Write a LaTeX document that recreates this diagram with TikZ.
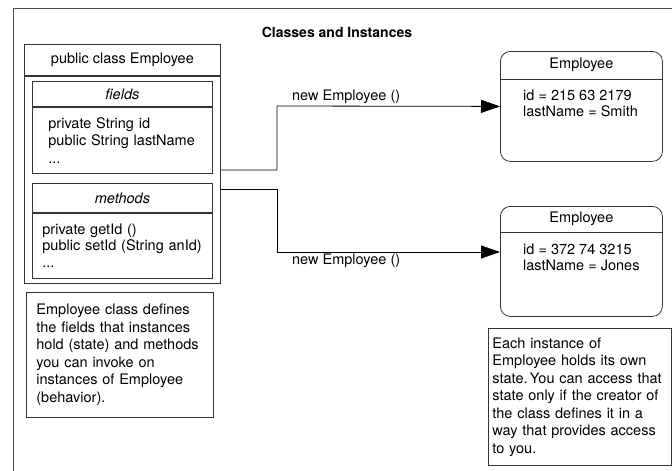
\documentclass[tikz,border=0pt]{standalone}
\usepackage{fontspec}
\setmainfont{TeX Gyre Heros}
\usetikzlibrary{arrows.meta,positioning}
\frenchspacing

\tikzset{
  box/.style={draw=black!80,line width=0.8pt,inner sep=0pt},
  inst/.style={draw=black!80,line width=0.8pt,rounded corners=10pt,minimum width=162,minimum height=110,anchor=north west},
  note/.style={draw=black!80,line width=0.8pt,align=left,anchor=north west,inner ysep=0pt},
  txt/.style={align=left,inner sep=0pt},
  call/.style={line width=0.8pt,-{Triangle[length=19pt,width=13pt]}},
  lbl/.style={inner sep=2pt}
}

\begin{document}
\begin{tikzpicture}[x=1pt,y=-1pt,font=\fontsize{14.5}{17.5}\selectfont]
   \useasboundingbox (0,0) rectangle (672,471);
   \draw[black!70,line width=1pt] (13,471) -- (13,8) -- (672,8);
   \node[font=\fontsize{14}{17}\selectfont\bfseries] (title) at (337,32) {Classes and Instances};

   % the class
   \node[box,anchor=north west,minimum width=196,minimum height=31] (clshead) at (24,44) {public class Employee};
   \node[box,anchor=north,minimum width=196,minimum height=207] (clsbody) at (clshead.south) {};
   \node[box,anchor=north west,minimum width=180,minimum height=25,font=\fontsize{14.5}{17.5}\selectfont\itshape] (fldhead) at (32,81) {fields};
   \node[box,anchor=north,minimum width=180,minimum height=66,inner xsep=16pt,text width=148,align=left] (fldbody) at (fldhead.south) {private String id\\public String lastName\\...};
   \node[box,anchor=north west,minimum width=180,minimum height=29,font=\fontsize{14.5}{17.5}\selectfont\itshape] (mthhead) at (32,183) {methods};
   \node[box,anchor=north,minimum width=180,minimum height=65,inner xsep=10pt,text width=160,align=left] (mthbody) at (mthhead.south) {private getId ()\\[-1pt]public setId (String anId)\\[-1pt]...};

   \node[note,minimum width=187,minimum height=125,inner xsep=10pt,text width=167] (clsnote) at (26,292)
     {Employee class defines\\the fields that instances\\hold (state) and methods\\you can invoke on\\instances of Employee\\(behavior).};

   % the instances
   \node[inst] (smith) at (500,51) {};
   \node[anchor=north,minimum height=28,inner sep=0pt] (smithhead) at (smith.north) {Employee};
   \coordinate (smithline) at (smith.west |- smithhead.south);
   \draw[black!80,line width=0.8pt] (smithline) -- (smith.east |- smithline);
   \node[txt,below right=10pt and 23pt of smithline] (smithdata) {id = 215 63 2179\\[-1pt]lastName = Smith};

   \node[inst] (jones) at (500,206) {};
   \node[anchor=north,minimum height=26,inner sep=0pt] (joneshead) at (jones.north) {Employee};
   \coordinate (jonesline) at (jones.west |- joneshead.south);
   \draw[black!80,line width=0.8pt] (jonesline) -- (jones.east |- jonesline);
   \node[txt,below right=11pt and 23pt of jonesline] (jonesdata) {id = 372 74 3215\\[-1pt]lastName = Jones};

   \node[note,minimum width=183,minimum height=137,inner xsep=4pt,text width=175] (instnote) at (488,328)
     {Each instance of\\Employee holds its own\\state.\,You can access that\\state only if the creator of\\the class defines it in a\\way that provides access\\to you.};

   % new Employee () calls
   \coordinate (out1) at (clsbody.east |- 0,170);
   \coordinate (out2) at (clsbody.east |- 0,189);
   \draw[call] (out1) -| (277,106) -- node[lbl,above,pos=0.31] (call1) {new Employee ()} (smith.west);
   \draw[call] (out2) -| (277,252) -- node[lbl,below,pos=0.31] (call2) {new Employee ()} (jones.west |- 0,252);
\end{tikzpicture}
\end{document}
